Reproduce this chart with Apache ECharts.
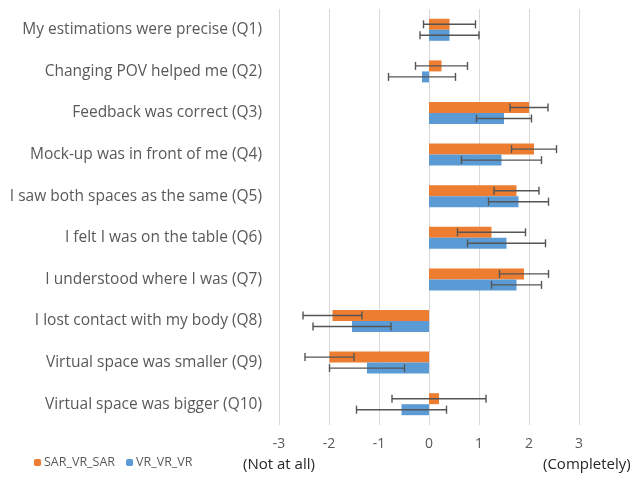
<!DOCTYPE html>
<html>
<head>
<meta charset="utf-8">
<script src="https://cdn.jsdelivr.net/npm/echarts@6/dist/echarts.min.js"></script>
<style>
  html, body { margin: 0; padding: 0; background: #fff; }
  #chart { width: 630px; height: 478px; }
</style>
</head>
<body>
<div id="chart"></div>
<script>
var questions = [
  'My estimations were precise (Q1)',
  'Changing POV helped me (Q2)',
  'Feedback was correct (Q3)',
  'Mock-up was in front of me (Q4)',
  'I saw both spaces as the same (Q5)',
  'I felt I was on the table (Q6)',
  'I understood where I was (Q7)',
  'I lost contact with my body (Q8)',
  'Virtual space was smaller (Q9)',
  'Virtual space was bigger (Q10)'
];
var sarMean = [0.41, 0.25, 2.0, 2.1, 1.75, 1.25, 1.9, -1.93, -1.99, 0.2];
var sarErr  = [0.52, 0.52, 0.38, 0.45, 0.45, 0.68, 0.49, 0.59, 0.49, 0.94];
var vrMean  = [0.41, -0.14, 1.5, 1.45, 1.79, 1.55, 1.75, -1.54, -1.24, -0.55];
var vrErr   = [0.59, 0.67, 0.55, 0.8, 0.6, 0.78, 0.5, 0.78, 0.75, 0.9];

var orange = '#ED7D31', blue = '#5B9BD5';
var textColor = '#595959';
var font = 'Open Sans';
var barW = 11;

function errData(mean, err) {
  return mean.map(function (m, i) { return [i, m - err[i], m + err[i]]; });
}

function errRenderer(offset) {
  return function (params, api) {
    var cat = api.value(0);
    var lo = api.coord([api.value(1), cat]);
    var hi = api.coord([api.value(2), cat]);
    var y = lo[1] + offset;
    var cap = 4;
    var st = { stroke: '#555555', lineWidth: 1.4 };
    return {
      type: 'group',
      children: [
        { type: 'line', shape: { x1: lo[0], y1: y, x2: hi[0], y2: y }, style: st },
        { type: 'line', shape: { x1: lo[0], y1: y - cap, x2: lo[0], y2: y + cap }, style: st },
        { type: 'line', shape: { x1: hi[0], y1: y - cap, x2: hi[0], y2: y + cap }, style: st }
      ]
    };
  };
}

var chart = echarts.init(document.getElementById('chart'));
chart.setOption({
  animation: false,
  textStyle: { fontFamily: font },
  grid: { left: 279, right: 51, top: 9, bottom: 53 },
  legend: {
    left: 29, bottom: 4,
    itemWidth: 7, itemHeight: 7, itemGap: 11,
    textStyle: { color: textColor, fontSize: 12.5, padding: [0, 0, 0, -2] },
    data: ['SAR_VR_SAR', 'VR_VR_VR']
  },
  xAxis: {
    type: 'value', min: -3, max: 3, interval: 1,
    axisLine: { show: false },
    axisTick: { show: false },
    axisLabel: { color: textColor, fontSize: 14, margin: 12 },
    splitLine: { lineStyle: { color: '#D9D9D9', width: 1 } }
  },
  yAxis: {
    type: 'category', inverse: true, data: questions,
    position: 'left',
    axisLine: { show: false },
    axisTick: { show: false },
    axisLabel: { color: textColor, fontSize: 15.5, margin: 17 }
  },
  graphic: [
    { type: 'text', left: 243, top: 457, style: { text: '(Not at all)', fill: '#262626', font: '15px Open Sans' } },
    { type: 'text', left: 543, top: 457, style: { text: '(Completely)', fill: '#262626', font: '15px Open Sans' } }
  ],
  series: [
    {
      name: 'SAR_VR_SAR', type: 'bar', data: sarMean,
      barWidth: barW, barGap: '0%',
      itemStyle: { color: orange }
    },
    {
      name: 'VR_VR_VR', type: 'bar', data: vrMean,
      barWidth: barW, barGap: '0%',
      itemStyle: { color: blue }
    },
    {
      type: 'custom', name: 'sarErr', data: errData(sarMean, sarErr),
      renderItem: errRenderer(-barW / 2), z: 10
    },
    {
      type: 'custom', name: 'vrErr', data: errData(vrMean, vrErr),
      renderItem: errRenderer(barW / 2), z: 10
    }
  ]
});
</script>
</body>
</html>
